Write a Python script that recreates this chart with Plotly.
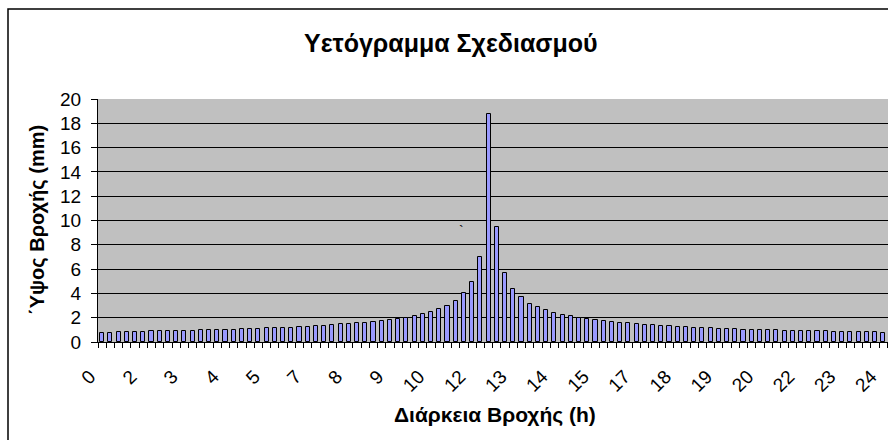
import plotly.graph_objects as go

# Rainfall duration (h) for each 15-min block
durations = [0.25, 0.5, 0.75, 1.0, 1.25, 1.5, 1.75, 2.0, 2.25, 2.5, 2.75, 3.0,
             3.25, 3.5, 3.75, 4.0, 4.25, 4.5, 4.75, 5.0, 5.25, 5.5, 5.75, 6.0,
             6.25, 6.5, 6.75, 7.0, 7.25, 7.5, 7.75, 8.0, 8.25, 8.5, 8.75, 9.0,
             9.25, 9.5, 9.75, 10.0, 10.25, 10.5, 10.75, 11.0, 11.25, 11.5, 11.75, 12.0,
             12.25, 12.5, 12.75, 13.0, 13.25, 13.5, 13.75, 14.0, 14.25, 14.5, 14.75, 15.0,
             15.25, 15.5, 15.75, 16.0, 16.25, 16.5, 16.75, 17.0, 17.25, 17.5, 17.75, 18.0,
             18.25, 18.5, 18.75, 19.0, 19.25, 19.5, 19.75, 20.0, 20.25, 20.5, 20.75, 21.0,
             21.25, 21.5, 21.75, 22.0, 22.25, 22.5, 22.75, 23.0, 23.25, 23.5, 23.75, 24.0]

# Rainfall depth (mm) per block
rain_mm = [0.78, 0.78, 0.79, 0.80, 0.80, 0.81, 0.87, 0.88, 0.89, 0.90, 0.91, 0.92,
           0.96, 0.97, 0.98, 0.99, 1.00, 1.05, 1.07, 1.08, 1.12, 1.14, 1.16, 1.18,
           1.23, 1.25, 1.31, 1.34, 1.40, 1.45, 1.51, 1.55, 1.60, 1.67, 1.75, 1.84,
           1.92, 2.00, 2.12, 2.28, 2.45, 2.70, 2.95, 3.40, 4.00, 4.92, 7.00, 18.8,
           9.50, 5.72, 4.33, 3.67, 3.12, 2.87, 2.60, 2.36, 2.20, 2.10, 1.94, 1.88,
           1.78, 1.70, 1.63, 1.58, 1.53, 1.47, 1.42, 1.37, 1.33, 1.28, 1.24, 1.21,
           1.17, 1.15, 1.13, 1.10, 1.08, 1.06, 1.02, 1.00, 0.99, 0.98, 0.97, 0.93,
           0.92, 0.91, 0.90, 0.89, 0.88, 0.84, 0.82, 0.81, 0.80, 0.80, 0.79, 0.78]

# Category labels shown every 5th bar (Excel rounds to 0 decimals)
tick_positions = durations[0::5]
tick_labels = ["0", "2", "3", "4", "5", "7", "8", "9", "10", "12",
               "13", "14", "15", "17", "18", "19", "20", "22", "23", "24"]

FONT = "Liberation Sans, Arial, sans-serif"

fig = go.Figure()
fig.add_trace(go.Bar(
    x=durations, y=rain_mm, width=0.125,
    marker=dict(color="#9999FF", line=dict(color="#000000", width=1)),
    hoverinfo="x+y",
))

fig.update_layout(
    width=888, height=440,
    margin=dict(l=98, r=0, t=99, b=98),
    paper_bgcolor="white",
    plot_bgcolor="#C0C0C0",
    showlegend=False,
    font=dict(family=FONT, color="black"),
    bargap=0,
)

fig.update_xaxes(
    range=[0.125, 24.125 + 0.02],
    tickmode="array", tickvals=tick_positions, ticktext=tick_labels,
    tickangle=-45, tickfont=dict(size=19, family=FONT, color="black"),
    ticklabelstandoff=15, ticklabelshift=-12, ticklabeloverflow="allow",
    ticks="", showgrid=False, zeroline=False,
    showline=True, linecolor="black", linewidth=1,
    minor=dict(ticks="outside", ticklen=5, tickcolor="black", tickwidth=1,
               tickmode="linear", tick0=0.125, dtick=0.25, showgrid=False),
)
fig.update_yaxes(
    range=[0, 20], dtick=2, tick0=0,
    ticks="outside", ticklen=6, tickcolor="black",
    tickfont=dict(size=19, family=FONT, color="black"),
    ticklabelstandoff=6,
    showgrid=True, gridcolor="#000000", gridwidth=1,
    zeroline=False, showline=True, linecolor="black", linewidth=1,
)

# Outer chart-area border (cropped on right and bottom)
fig.add_shape(type="rect", xref="paper", yref="paper",
              x0=(8 - 98) / 790, x1=1.05, y0=-0.6, y1=(342 - 9) / 243,
              line=dict(color="black", width=1.5), fillcolor="rgba(0,0,0,0)",
              layer="above")

# Titles
fig.add_annotation(text="<b>Υετόγραμμα Σχεδιασμού</b>", xref="paper", yref="paper",
                   x=(451 - 98) / 790, y=(342 - 43) / 243,
                   xanchor="center", yanchor="middle", showarrow=False,
                   font=dict(size=25, family=FONT, color="black"))
fig.add_annotation(text="<b>Διάρκεια Βροχής (h)</b>", xref="paper", yref="paper",
                   x=(495 - 98) / 790, y=(342 - 415) / 243,
                   xanchor="center", yanchor="middle", showarrow=False,
                   font=dict(size=21, family=FONT, color="black"))
fig.add_annotation(text="<b>΄Υψος Βροχής (mm)</b>", xref="paper", yref="paper",
                   x=(37 - 98) / 790, y=(342 - 220) / 243, textangle=-90,
                   xanchor="center", yanchor="middle", showarrow=False,
                   font=dict(size=20, family=FONT, color="black"))
# stray mark present in the original
fig.add_annotation(text="`", xref="paper", yref="paper",
                   x=(461 - 98) / 790, y=(342 - 231) / 243,
                   xanchor="center", yanchor="middle", showarrow=False,
                   font=dict(size=14, family=FONT, color="black"))

fig.write_html("out.html")
